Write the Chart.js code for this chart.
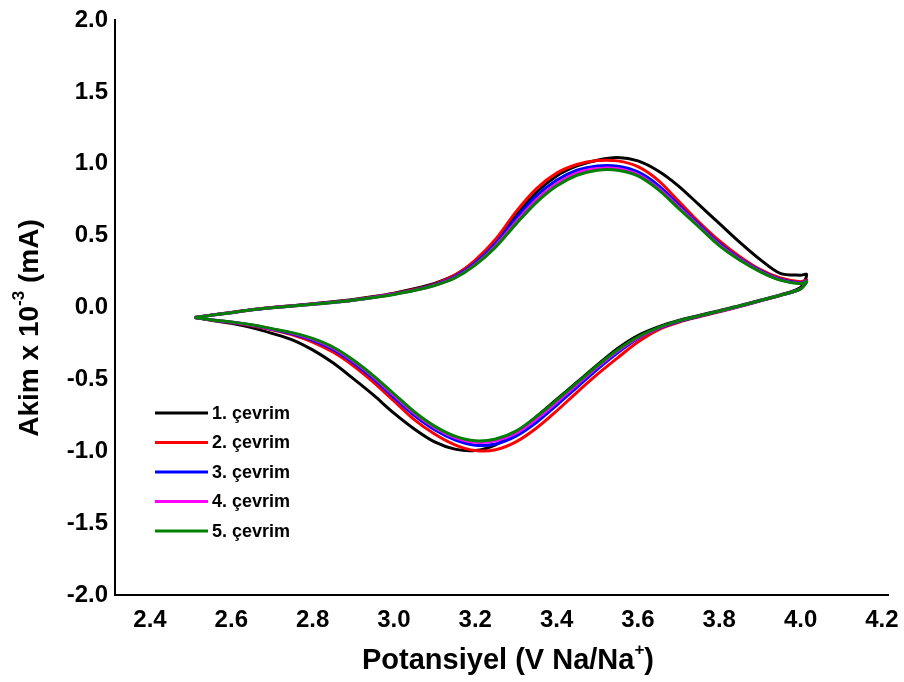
<!DOCTYPE html>
<html>
<head>
<meta charset="utf-8">
<script src="https://cdn.jsdelivr.net/npm/chart.js@4.4.1/dist/chart.umd.min.js"></script>
<style>
  html, body { margin: 0; padding: 0; background: #fff; }
  #wrap { width: 904px; height: 682px; }
</style>
</head>
<body>
<div id="wrap"><canvas id="cv" width="904" height="682"></canvas></div>
<script>
// --- DATA ---
const cycleLabels = ['1. çevrim', '2. çevrim', '3. çevrim', '4. çevrim', '5. çevrim'];
const cycleColors = ['#000000', '#ff0000', '#0000ff', '#ff00ff', '#008000'];

const xTicks = [2.4, 2.6, 2.8, 3.0, 3.2, 3.4, 3.6, 3.8, 4.0, 4.2];
const yTicks = [-2.0, -1.5, -1.0, -0.5, 0.0, 0.5, 1.0, 1.5, 2.0];

// anodic sweep (2.5 V -> 4.0 V)
const potUp = [2.51, 2.55, 2.60, 2.65, 2.70, 2.75, 2.80, 2.85, 2.90, 2.95, 3.00, 3.05, 3.10, 3.15, 3.20, 3.25,
  3.30, 3.35, 3.40, 3.45, 3.50, 3.55, 3.60, 3.65, 3.70, 3.75, 3.80, 3.85, 3.90, 3.95, 4.00, 4.015];
// cathodic sweep (4.0 V -> 2.5 V)
const potDown = [4.015, 4.00, 3.95, 3.90, 3.85, 3.80, 3.75, 3.70, 3.65, 3.60, 3.55, 3.50, 3.45, 3.40, 3.35, 3.30,
  3.25, 3.20, 3.15, 3.10, 3.05, 3.00, 2.95, 2.90, 2.85, 2.80, 2.75, 2.70, 2.65, 2.60, 2.55, 2.51];

const cycle1Up = [-0.07, -0.053, -0.035, -0.015, 0.0, 0.013, 0.026, 0.04, 0.056, 0.076, 0.10, 0.13, 0.168, 0.225, 0.32, 0.46,
  0.64, 0.80, 0.915, 0.985, 1.025, 1.043, 1.02, 0.95, 0.845, 0.715, 0.585, 0.455, 0.335, 0.237, 0.225, 0.23];
const cycle2Up = [-0.07, -0.053, -0.035, -0.015, 0.0, 0.012, 0.024, 0.038, 0.053, 0.073, 0.097, 0.125, 0.163, 0.225, 0.33, 0.475,
  0.665, 0.825, 0.935, 0.995, 1.022, 1.02, 0.98, 0.885, 0.74, 0.595, 0.465, 0.355, 0.265, 0.205, 0.18, 0.19];
const cycle3Up = [-0.07, -0.054, -0.036, -0.016, -0.001, 0.011, 0.023, 0.036, 0.051, 0.071, 0.094, 0.121, 0.158, 0.215, 0.31, 0.445,
  0.62, 0.775, 0.885, 0.955, 0.985, 0.983, 0.943, 0.85, 0.715, 0.578, 0.447, 0.342, 0.258, 0.197, 0.17, 0.185];
const cycle4Up = [-0.07, -0.054, -0.036, -0.016, -0.002, 0.01, 0.022, 0.035, 0.05, 0.07, 0.092, 0.119, 0.155, 0.208, 0.30, 0.43,
  0.595, 0.748, 0.86, 0.935, 0.967, 0.966, 0.925, 0.83, 0.70, 0.567, 0.437, 0.335, 0.253, 0.192, 0.167, 0.182];
const cycle5Up = [-0.07, -0.054, -0.036, -0.016, -0.002, 0.01, 0.022, 0.035, 0.05, 0.069, 0.091, 0.118, 0.153, 0.205, 0.295, 0.42,
  0.58, 0.73, 0.845, 0.92, 0.955, 0.955, 0.915, 0.82, 0.69, 0.56, 0.43, 0.33, 0.25, 0.19, 0.165, 0.18];

const cycle1Down = [0.23, 0.14, 0.088, 0.05, 0.012, -0.022, -0.055, -0.09, -0.135, -0.195, -0.285, -0.40, -0.52, -0.64, -0.76, -0.87,
  -0.955, -0.995, -0.985, -0.935, -0.845, -0.735, -0.61, -0.495, -0.385, -0.295, -0.225, -0.18, -0.14, -0.11, -0.088, -0.07];
const cycle2Down = [0.19, 0.13, 0.083, 0.045, 0.006, -0.03, -0.065, -0.103, -0.155, -0.24, -0.35, -0.465, -0.59, -0.72, -0.84, -0.935,
  -0.99, -0.995, -0.955, -0.88, -0.78, -0.65, -0.52, -0.405, -0.31, -0.24, -0.19, -0.155, -0.127, -0.105, -0.087, -0.07];
const cycle3Down = [0.185, 0.13, 0.084, 0.047, 0.008, -0.027, -0.061, -0.097, -0.146, -0.215, -0.315, -0.43, -0.555, -0.68, -0.80, -0.895,
  -0.95, -0.958, -0.92, -0.85, -0.75, -0.625, -0.497, -0.385, -0.292, -0.228, -0.183, -0.151, -0.124, -0.103, -0.086, -0.07];
const cycle4Down = [0.182, 0.13, 0.085, 0.048, 0.009, -0.026, -0.059, -0.095, -0.143, -0.21, -0.302, -0.415, -0.537, -0.66, -0.777, -0.875,
  -0.928, -0.938, -0.905, -0.835, -0.735, -0.61, -0.484, -0.373, -0.282, -0.22, -0.178, -0.149, -0.122, -0.101, -0.085, -0.07];
const cycle5Down = [0.18, 0.13, 0.085, 0.048, 0.01, -0.025, -0.058, -0.093, -0.14, -0.205, -0.295, -0.405, -0.525, -0.645, -0.76, -0.86,
  -0.915, -0.927, -0.895, -0.825, -0.725, -0.60, -0.475, -0.365, -0.275, -0.215, -0.175, -0.147, -0.12, -0.10, -0.085, -0.07];

const upBranches = [cycle1Up, cycle2Up, cycle3Up, cycle4Up, cycle5Up];
const downBranches = [cycle1Down, cycle2Down, cycle3Down, cycle4Down, cycle5Down];

// --- BUILD ONE CLOSED LOOP PER CYCLE ---
function loop(up, down) {
  const pts = potUp.map((v, k) => ({ x: v, y: up[k] }));
  potDown.forEach((v, k) => { if (k > 0) pts.push({ x: v, y: down[k] }); });
  return pts;
}

const datasets = cycleLabels.map((label, i) => ({
  label: label,
  data: loop(upBranches[i], downBranches[i]),
  borderColor: cycleColors[i],
  backgroundColor: cycleColors[i],
  borderWidth: 3,
  showLine: true,
  pointRadius: 0,
  tension: 0.3,
  order: cycleLabels.length - i   // first cycle underneath, last on top
}));

// --- axis titles with superscripts + legend inside the plot ---
const FONT = '"Liberation Sans", Arial, sans-serif';

function drawSupText(ctx, parts, size) {
  // parts: [[text, isSup], ...] drawn left to right, centred on the origin
  let total = 0;
  parts.forEach(p => {
    ctx.font = 'bold ' + (p[1] ? Math.round(size * 0.6) : size) + 'px ' + FONT;
    total += ctx.measureText(p[0]).width;
  });
  let x = -total / 2;
  parts.forEach(p => {
    ctx.font = 'bold ' + (p[1] ? Math.round(size * 0.6) : size) + 'px ' + FONT;
    ctx.fillText(p[0], x, p[1] ? -size * 0.38 : 0);
    x += ctx.measureText(p[0]).width;
  });
}

const extras = {
  id: 'extras',
  afterDraw(chart) {
    const ctx = chart.ctx;
    ctx.save();
    ctx.fillStyle = '#000';
    ctx.textBaseline = 'middle';
    ctx.textAlign = 'left';

    // x title
    ctx.save();
    ctx.translate(508, 661);
    drawSupText(ctx, [['Potansiyel (V Na/Na', false], ['+', true], [')', false]], 29);
    ctx.restore();

    // y title
    ctx.save();
    ctx.translate(30, 328);
    ctx.rotate(-Math.PI / 2);
    drawSupText(ctx, [['Akim x 10', false], ['-3', true], [' (mA)', false]], 28);
    ctx.restore();

    // legend
    const left = chart.chartArea.left;
    const top = chart.chartArea.top;
    chart.data.datasets.forEach((ds, i) => {
      const y = top + 393 + i * 29.5;
      ctx.strokeStyle = ds.borderColor;
      ctx.lineWidth = 3;
      ctx.beginPath();
      ctx.moveTo(left + 40, y);
      ctx.lineTo(left + 93, y);
      ctx.stroke();
      ctx.font = 'bold 18px ' + FONT;
      ctx.fillText(ds.label, left + 97, y + 1);
    });
    ctx.restore();
  }
};

new Chart(document.getElementById('cv'), {
  type: 'scatter',
  data: { datasets: datasets },
  options: {
    responsive: false,
    animation: false,
    devicePixelRatio: 1,
    layout: { padding: { top: 20, right: 16, left: 0, bottom: 0 } },
    plugins: { legend: { display: false }, tooltip: { enabled: false } },
    scales: {
      x: {
        type: 'linear',
        min: 2.314,
        max: 4.215,
        afterBuildTicks: s => { s.ticks = xTicks.map(v => ({ value: v })); },
        afterFit: s => { s.height = 87; s.paddingLeft = 0; s.paddingRight = 0; },
        grid: { display: false, drawTicks: false },
        border: { display: true, color: '#000', width: 2 },
        ticks: {
          color: '#000',
          padding: 11,
          autoSkip: false,
          maxRotation: 0,
          font: { family: FONT, size: 24, weight: 'bold' },
          callback: v => v.toFixed(1)
        }
      },
      y: {
        type: 'linear',
        min: -2,
        max: 2,
        afterBuildTicks: s => { s.ticks = yTicks.map(v => ({ value: v })); },
        afterFit: s => { s.width = 115; s.paddingTop = 0; s.paddingBottom = 0; },
        grid: { display: false, drawTicks: false },
        border: { display: true, color: '#000', width: 2 },
        ticks: {
          color: '#000',
          padding: 7,
          font: { family: FONT, size: 24, weight: 'bold' },
          callback: v => v.toFixed(1)
        }
      }
    }
  },
  plugins: [extras]
});
</script>
</body>
</html>
